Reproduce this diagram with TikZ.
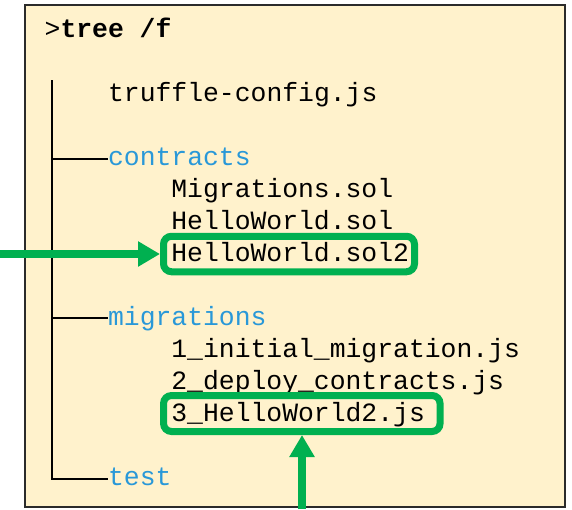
\documentclass[tikz,border=0pt]{standalone}
\usepackage{fontspec}
\setmonofont{Liberation Mono}
\usetikzlibrary{arrows.meta}
\definecolor{paper}{HTML}{FFF2CC}
\definecolor{framegray}{HTML}{2B2B2B}
\definecolor{hilite}{HTML}{00B050}
\definecolor{dirblue}{RGB}{41,152,216}

\begin{document}
\begin{tikzpicture}[x=1pt,y=-1pt]
        \tikzstyle{entry}=[font=\ttfamily\fontsize{26.4}{32}\selectfont,inner sep=0pt,anchor=base west,text=black]
        \tikzstyle{dir}=[entry,text=dirblue]
        \tikzstyle{treeline}=[line width=2pt,black]
        \tikzstyle{markbox}=[draw=hilite,line width=7pt,rounded corners=8pt,inner sep=0pt]
        \tikzstyle{markarrow}=[draw=hilite,line width=8pt,-{Triangle[length=22pt,width=24pt]}]

        \useasboundingbox (0,0) rectangle (572,509);
        \draw[framegray,line width=2.5pt,fill=paper] (25,5) rectangle (565,507);

        \node[entry]  (L00) at (44.5,37)   {>\textbf{tree /f}};
        \node[entry]  (L02) at (107.9,101) {truffle-config.js};
        \node[dir]    (L04) at (107.9,165) {contracts};
        \node[entry]  (L05) at (171.2,197) {Migrations.sol};
        \node[entry]  (L06) at (171.2,229) {HelloWorld.sol};
        \node[entry]  (L07) at (171.2,261) {HelloWorld.sol2};
        \node[dir]    (L09) at (107.9,325) {migrations};
        \node[entry]  (L10) at (171.2,357) {1\_initial\_migration.js};
        \node[entry]  (L11) at (171.2,389) {2\_deploy\_contracts.js};
        \node[entry]  (L12) at (171.2,421) {3\_HelloWorld2.js};
        \node[dir]    (L14) at (107.9,485) {test};

        % tree branches
        \draw[treeline] (52.4,80) -- (52.4,479) -- (L14.west |- 0,479);
        \draw[treeline] (52.4,159) -- (L04.west |- 0,159);
        \draw[treeline] (52.4,318) -- (L09.west |- 0,318);

        % highlighted files
        \node[markbox,minimum width=251pt,minimum height=35.5pt] (B1) at (289,254)   {};
        \node[markbox,minimum width=276.5pt,minimum height=36pt] (B2) at (301.8,413.5) {};

        \coordinate (S1) at (0,254);
        \coordinate (S2) at (302,509);
        \path[markarrow] (S1) -- (S1 -| B1.west);
        \path[markarrow] (S2) -- (S2 |- B2.south);
\end{tikzpicture}
\end{document}
